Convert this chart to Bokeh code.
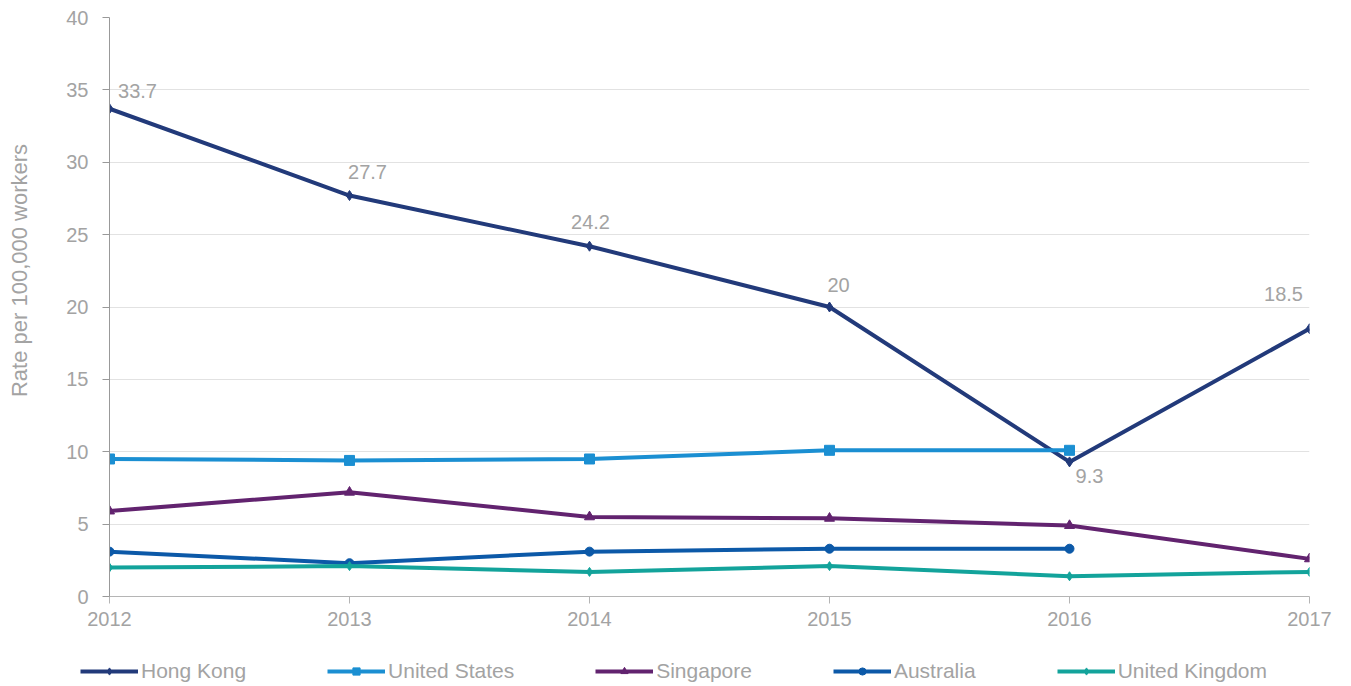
import math
from bokeh.plotting import figure
from bokeh.layouts import row
from bokeh.models import (ColumnDataSource, Range1d, FixedTicker, Legend, LegendItem, Label)
from bokeh.core.properties import value
from bokeh.embed import file_html
from bokeh.resources import INLINE

# ---- data ----
years = [2012, 2013, 2014, 2015, 2016, 2017]
hong_kong = [33.7, 27.7, 24.2, 20.0, 9.3, 18.5]
hk_labels = ["33.7", "27.7", "24.2", "20", "9.3", "18.5"]
us_years = [2012, 2013, 2014, 2015, 2016]
united_states = [9.5, 9.4, 9.5, 10.1, 10.1]
singapore = [5.9, 7.2, 5.5, 5.4, 4.9, 2.6]
au_years = [2012, 2013, 2014, 2015, 2016]
australia = [3.1, 2.3, 3.1, 3.3, 3.3]
united_kingdom = [2.0, 2.1, 1.7, 2.1, 1.4, 1.7]
series_names = ["Hong Kong", "United States", "Singapore", "Australia", "United Kingdom"]
y_ticks = [0, 5, 10, 15, 20, 25, 30, 35, 40]
y_title = "Rate per 100,000 workers"

# ---- styles ----
FONT = "Liberation Sans"
GREY = "#a3a3a3"
colors = ["#223a7a", "#1b8fd2", "#62236f", "#0c59a8", "#13a39b"]
markers = ["diamond", "square", "triangle", "circle", "diamond"]
msizes = [10, 10, 10, 9, 9]
# label offsets (screen px) for Hong Kong data labels
hk_dx = [28, 18, 1, 9, 20, -26]
hk_dy = [-18, -24, -24, -22, 14, -35]

TITLE_W = 36
p = figure(width=1343 - TITLE_W, height=640, output_backend="svg", toolbar_location=None,
           x_range=Range1d(2012, 2017), y_range=Range1d(0, 40),
           min_border_left=109 - TITLE_W, min_border_right=34, min_border_top=17,
           min_border_bottom=44)
p.outline_line_color = None
p.xgrid.grid_line_color = None
p.ygrid.grid_line_color = "#e2e2e2"
p.ygrid.grid_line_width = 1

p.yaxis.ticker = FixedTicker(ticks=y_ticks)
p.xaxis.ticker = FixedTicker(ticks=years)
for ax in (p.xaxis[0], p.yaxis[0]):
    ax.major_label_text_font = FONT
    ax.major_label_text_font_size = "20px"
    ax.major_label_text_color = GREY
    ax.minor_tick_line_color = None
    ax.major_tick_in = 0
    ax.major_tick_out = 7
p.yaxis.axis_line_color = "#999999"
p.yaxis.major_tick_line_color = "#999999"
p.yaxis.major_label_standoff = 14
p.xaxis.axis_line_color = "#b5b5b5"
p.xaxis.major_tick_line_color = "#b5b5b5"
p.xaxis.major_label_standoff = 8

LW = 4
series = [(years, hong_kong), (us_years, united_states), (years, singapore),
          (au_years, australia), (years, united_kingdom)]
for (xs, ys), c, m, s in zip(series, colors, markers, msizes):
    p.line(xs, ys, line_color=c, line_width=LW)
    p.scatter(xs, ys, marker=m, size=s, color=c)

src = ColumnDataSource(dict(x=years, y=hong_kong, t=hk_labels, dx=hk_dx, dy=hk_dy))
p.text(x="x", y="y", text="t", x_offset="dx", y_offset="dy", source=src,
       text_font=value(FONT), text_font_size="20px", text_color=GREY,
       text_align="center", text_baseline="middle")

# ---- y-title strip ----
tf = figure(width=TITLE_W, height=640, output_backend="svg", toolbar_location=None,
            x_range=Range1d(0, 1), y_range=Range1d(0, 1),
            x_axis_location=None, y_axis_location=None,
            min_border_left=0, min_border_right=0, min_border_top=17, min_border_bottom=44)
tf.outline_line_color = None
tf.grid.grid_line_color = None
tf.add_layout(Label(x=19, y=326, x_units="screen", y_units="screen", text=y_title,
                    angle=math.pi / 2, text_font=FONT, text_font_size="22px",
                    text_color=GREY, text_align="center", text_baseline="middle"))

# ---- legend strip ----
lg = figure(width=1343, height=46, output_backend="svg", toolbar_location=None,
            x_range=Range1d(0, 1), y_range=Range1d(0, 1),
            x_axis_location=None, y_axis_location=None, min_border=0)
lg.outline_line_color = None
lg.grid.grid_line_color = None
nan = float("nan")
items = []
for name, c, m, s in zip(series_names, colors, markers, msizes):
    rl = lg.line([nan], [nan], line_color=c, line_width=LW)
    rm = lg.scatter([nan], [nan], marker=m, size=s, color=c)
    items.append(LegendItem(label=name, renderers=[rl, rm]))
legend = Legend(items=items, orientation="horizontal", location=(80, 3),
                spacing=81, padding=0, margin=0,
                glyph_width=58, glyph_height=18, label_standoff=3, label_height=18,
                label_text_font=FONT, label_text_font_size="21px", label_text_color=GREY,
                border_line_color=None, background_fill_alpha=0)
lg.add_layout(legend, "center")

open("out.html", "w").write(file_html([row(tf, p, spacing=0), lg], INLINE))
